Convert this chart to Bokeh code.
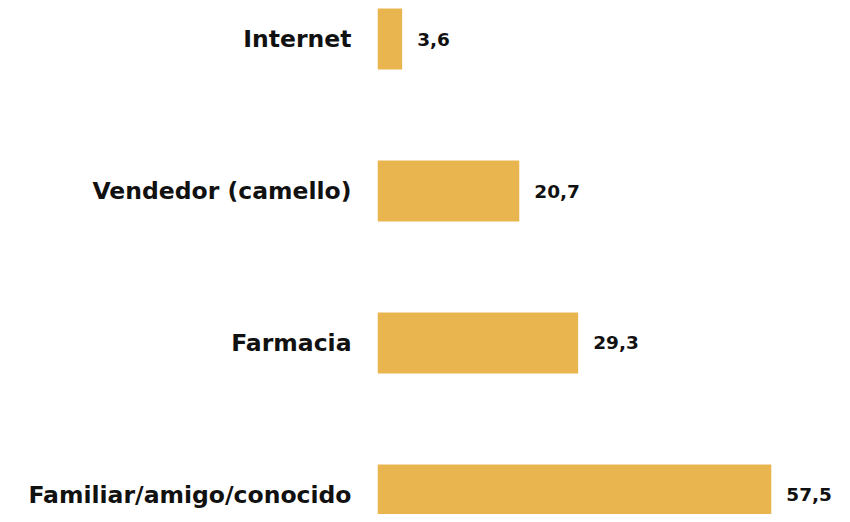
from bokeh.plotting import figure
from bokeh.models import FixedTicker, ColumnDataSource, Range1d
from bokeh.core.properties import value
from bokeh.embed import file_html
from bokeh.resources import INLINE

categories = ["Familiar/amigo/conocido", "Farmacia", "Vendedor (camello)", "Internet"]
values = [57.5, 29.3, 20.7, 3.6]
value_labels = ["57,5", "29,3", "20,7", "3,6"]

pos = list(range(len(categories)))
src = ColumnDataSource(dict(y=pos, v=values, lab=value_labels))

p = figure(width=842, height=514, output_backend="svg", toolbar_location=None,
           x_range=Range1d(0, 67.9), y_range=Range1d(-0.1283, 3.2533),
           min_border_left=377, min_border_right=0, min_border_top=0, min_border_bottom=0)
p.hbar(y="y", right="v", left=0, height=0.401, source=src, color="#E8B54E", line_color=None)
p.text(x="v", y="y", text="lab", source=src, x_offset=15, text_align="left", text_baseline="middle",
       text_font=value("DejaVu Sans"), text_font_style="bold", text_font_size="18.5px", text_color="#111111")

p.xaxis.visible = False
yax = p.yaxis[0]
yax.ticker = FixedTicker(ticks=pos)
yax.major_label_overrides = {i: c for i, c in enumerate(categories)}
yax.axis_line_color = None
yax.major_tick_line_color = None
yax.minor_tick_line_color = None
yax.major_tick_out = 0
yax.major_tick_in = 0
yax.major_label_standoff = 26
yax.major_label_text_font = "DejaVu Sans"
yax.major_label_text_font_style = "bold"
yax.major_label_text_font_size = "23.5px"
yax.major_label_text_color = "#111111"
p.grid.visible = False
p.outline_line_color = None
p.background_fill_color = "white"
p.border_fill_color = "white"

open("out.html", "w").write(file_html(p, INLINE))
